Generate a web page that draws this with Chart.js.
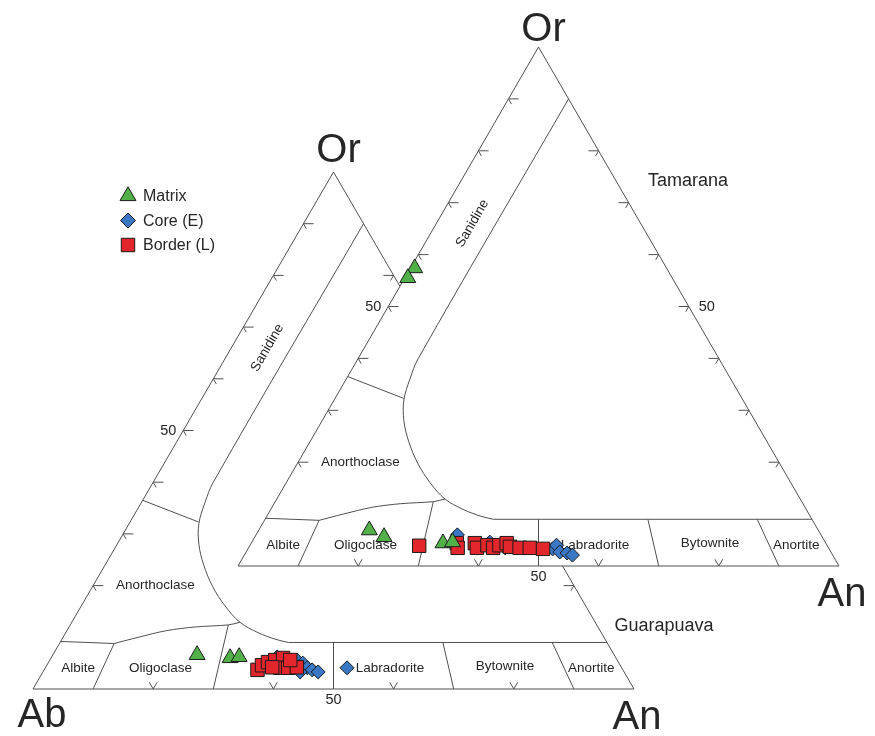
<!DOCTYPE html>
<html lang="en">
<head>
    <meta charset="UTF-8">
    <title>Feldspar ternary - Tamarana / Guarapuava</title>
    <script src="https://cdn.jsdelivr.net/npm/chart.js@4"></script>
    <style>
        html, body { margin: 0; padding: 0; background: #fff; }
        .chart-box { width: 875px; height: 736px; }
    </style>
</head>
<body>
    <div class="chart-box"><canvas id="ternChart" width="875" height="736"></canvas></div>

    <script>
        // compositions in mol% (Ab = 100 - An - Or)
        const tamaranaMatrixAn = [18.4, 21.5, 31.9, 33.4, 0.7, 0.5];
        const tamaranaMatrixOr = [6.9, 5.6, 4.4, 4.6, 57.4, 55.5];
        const tamaranaCoreAn = [33.5, 39.6, 42.7, 50.7, 51.0, 52.2, 53.5, 54.6];
        const tamaranaCoreOr = [6.0, 4.6, 3.5, 3.3, 4.0, 2.7, 2.5, 2.1];
        const tamaranaBorderAn = [28.2, 34.2, 34.8, 37.2, 38.0, 39.5, 40.7, 41.5, 42.5, 43.4, 45.1, 46.8, 49.1];
        const tamaranaBorderOr = [3.9, 4.4, 3.5, 4.4, 3.5, 4.0, 3.5, 4.0, 4.4, 3.7, 3.5, 3.5, 3.3];

        const guarapuavaMatrixAn = [24.0, 29.8, 31.2];
        const guarapuavaMatrixOr = [6.6, 6.0, 6.2];
        const guarapuavaCoreAn = [36.9, 37.5, 41.1, 42.4, 43.6, 44.6, 45.8, 42.8, 50.2];
        const guarapuavaCoreOr = [5.0, 6.2, 5.6, 5.0, 4.1, 3.7, 3.3, 3.3, 4.1];
        const guarapuavaBorderAn = [35.5, 35.8, 36.5, 37.5, 38.6, 39.1, 40.4, 41.8, 37.7, 40.0];
        const guarapuavaBorderOr = [3.7, 4.6, 5.2, 5.6, 6.0, 4.1, 4.1, 4.2, 4.2, 5.6];

        const seriesNames = ['Matrix', 'Core (E)', 'Border (L)'];
        const leftTicks = [20, 30, 40, 50, 60, 70, 80, 90];
        const rightTicks = [20, 30, 40, 50, 60, 70, 80];
        const baseTicks = [20, 40, 60, 80];
        const tickLabel = '50';

        // field names and where they sit, as [An, Or]
        const fieldNames = ['Albite', 'Oligoclase', 'Labradorite', 'Bytownite', 'Anortite', 'Anorthoclase', 'Sanidine'];
        const fieldAn = [5.5, 19.2, 57.4, 76.4, 90.9, 10.35, 6.0];
        const fieldOr = [4.0, 4.0, 4.0, 4.3, 4.0, 20.0, 66.0];

        // field boundaries of the feldspar diagram, [An, Or]
        const sanidineLine = [[10, 90], [10, 40], [10.6, 36], [11.6, 32], [13.6, 28], [16.4, 24], [20, 19.8], [24, 16], [28, 12.9], [32, 10.9], [35.6, 9.6], [38, 9]];
        const sanidineBase = [[0, 36.5], [11.4, 32.3]];
        const albiteTop = [[0, 9.2], [9.1, 8.8]];
        const anorthoclaseBase = [[9.1, 8.8], [12.5, 10.0], [16.6, 11.3], [21, 12.0], [26.3, 12.4], [28.0, 12.9]];
        const plagTop = [[38, 9], [91, 9]];
        const plagDividers = [
            [[10, 0], [9.1, 8.8]],
            [[30, 0], [26.3, 12.4]],
            [[50, 0], [45.5, 9]],
            [[70, 0], [63.7, 9]],
            [[90, 0], [81.9, 9]]
        ];

        const UPPER = { x0: 238, y0: 566, w: 601, h: 519, orDy: -17 };
        const LOWER = { x0: 33, y0: 689, w: 601, h: 517, orDy: -21 };

        const LINE = '#505050';
        const GREEN = '#52b048';
        const BLUE = '#3a78c6';
        const RED = '#e3262b';
        const SIZE_TRI = 9.2, SIZE_DIA = 7, SIZE_SQ = 9.5;

        function tern(tri, an, or) {
            return { x: tri.x0 + tri.w * (an + or / 2) / 100, y: tri.y0 - tri.h * or / 100 };
        }

        function path(tri, pts, tension) {
            return {
                data: pts.map(p => tern(tri, p[0], p[1])),
                showLine: true,
                borderColor: LINE,
                borderWidth: 1,
                pointRadius: 0,
                tension: tension || 0,
                fill: false
            };
        }

        function tickPath(tri) {
            const gap = { x: NaN, y: NaN };
            const pts = [];
            leftTicks.forEach(v => {
                pts.push(tern(tri, 1.7, v), tern(tri, 0, v), tern(tri, 1.0, v - 1.0), gap);
            });
            rightTicks.forEach(v => {
                pts.push(tern(tri, 100 - v - 1.7, v), tern(tri, 100 - v, v), tern(tri, 100 - v, v - 1.0), gap);
            });
            baseTicks.forEach(v => {
                pts.push(tern(tri, v - 1.3, 1.3), tern(tri, v, 0), tern(tri, v, 1.3), gap);
            });
            return {
                data: pts,
                showLine: true,
                spanGaps: false,
                borderColor: LINE,
                borderWidth: 1,
                pointRadius: 0,
                fill: false
            };
        }

        function diagram(tri, whiteFill) {
            const sets = [];
            const outline = path(tri, [[0, 0], [100, 0], [0, 100], [0, 0]]);
            if (whiteFill) {
                outline.fill = 'shape';
                outline.backgroundColor = '#fff';
            }
            sets.push(outline);
            sets.push(tickPath(tri));
            sets.push(path(tri, sanidineLine, 0.35));
            sets.push(path(tri, sanidineBase));
            sets.push(path(tri, albiteTop));
            sets.push(path(tri, anorthoclaseBase, 0.3));
            sets.push(path(tri, plagTop));
            plagDividers.forEach(d => sets.push(path(tri, d)));
            return sets;
        }

        function points(tri, an, or, style, color, radius) {
            return {
                data: an.map((a, i) => tern(tri, a, or[i])),
                pointStyle: style,
                pointRadius: radius,
                backgroundColor: color,
                borderColor: '#1b1b1b',
                borderWidth: 1,
                showLine: false
            };
        }

        // drawing order = push order
        const datasets = [];
        diagram(LOWER, false).forEach(d => datasets.push(d));
        diagram(UPPER, true).forEach(d => datasets.push(d));
        datasets[datasets.length - 1].labelsAfter = true;
        datasets.push(points(LOWER, guarapuavaCoreAn, guarapuavaCoreOr, 'rectRot', BLUE, SIZE_DIA));
        datasets.push(points(LOWER, guarapuavaBorderAn, guarapuavaBorderOr, 'rect', RED, SIZE_SQ));
        datasets.push(points(LOWER, guarapuavaMatrixAn, guarapuavaMatrixOr, 'triangle', GREEN, SIZE_TRI));
        datasets.push(points(UPPER, tamaranaCoreAn, tamaranaCoreOr, 'rectRot', BLUE, SIZE_DIA));
        datasets.push(points(UPPER, tamaranaBorderAn, tamaranaBorderOr, 'rect', RED, SIZE_SQ));
        datasets.push(points(UPPER, tamaranaMatrixAn, tamaranaMatrixOr, 'triangle', GREEN, SIZE_TRI));
        datasets.forEach((d, i) => { d.order = datasets.length - i; });

        const FONT = '"Liberation Sans", Arial, sans-serif';

        function text(ctx, str, x, y, size, rot) {
            ctx.save();
            ctx.font = size + 'px ' + FONT;
            ctx.fillStyle = '#262626';
            ctx.textAlign = 'center';
            ctx.textBaseline = 'middle';
            ctx.translate(x, y);
            if (rot) ctx.rotate(rot);
            ctx.fillText(str, 0, 0);
            ctx.restore();
        }

        const labelsPlugin = {
            id: 'ternLabels',
            afterDatasetDraw(chart, args) {
                if (!chart.data.datasets[args.index].labelsAfter) return;
                const ctx = chart.ctx;
                const xs = chart.scales.x, ys = chart.scales.y;
                const at = (tri, an, or) => {
                    const p = tern(tri, an, or);
                    return [xs.getPixelForValue(p.x), ys.getPixelForValue(p.y)];
                };
                [LOWER, UPPER].forEach(tri => {
                    fieldNames.forEach((name, i) => {
                        const p = at(tri, fieldAn[i], fieldOr[i]);
                        const sanidine = name === 'Sanidine';
                        text(ctx, name, p[0], p[1], 13.5, sanidine ? -Math.PI / 3 : 0);
                    });
                    let p = at(tri, 0, 50);
                    text(ctx, tickLabel, p[0] - 15, p[1], 14.5);
                    p = at(tri, 50, 0);
                    text(ctx, tickLabel, p[0], p[1] + 11, 14.5);
                    p = at(tri, 0, 100);
                    text(ctx, 'Or', p[0] + 5, p[1] + tri.orDy, 40);
                    p = at(tri, 100, 0);
                    text(ctx, 'An', p[0] + 3, p[1] + 29, 40);
                });
                let p = at(UPPER, 50, 50);
                text(ctx, tickLabel, p[0] + 18, p[1], 14.5);
                p = at(LOWER, 0, 0);
                text(ctx, 'Ab', p[0] + 9, p[1] + 27, 40);
                text(ctx, 'Tamarana', xs.getPixelForValue(688), ys.getPixelForValue(181), 18);
                text(ctx, 'Guarapuava', xs.getPixelForValue(664), ys.getPixelForValue(626), 18);
            },
            afterDraw(chart) {
                // legend
                const ctx = chart.ctx;
                const styles = [['triangle', GREEN, SIZE_TRI], ['rectRot', BLUE, 7.5], ['rect', RED, SIZE_SQ]];
                seriesNames.forEach((name, i) => {
                    const x = 128, y = 196 + i * 24.5;
                    ctx.save();
                    ctx.fillStyle = styles[i][1];
                    ctx.strokeStyle = '#1b1b1b';
                    ctx.lineWidth = 1;
                    Chart.helpers.drawPoint(ctx, { pointStyle: styles[i][0], radius: styles[i][2], borderWidth: 1 }, x, y);
                    ctx.restore();
                    ctx.save();
                    ctx.font = '16px ' + FONT;
                    ctx.fillStyle = '#262626';
                    ctx.textBaseline = 'middle';
                    ctx.fillText(name, 143, y + 1);
                    ctx.restore();
                });
            }
        };

        new Chart(document.getElementById('ternChart'), {
            type: 'scatter',
            data: { datasets: datasets },
            options: {
                responsive: false,
                animation: false,
                events: [],
                layout: { padding: 0, autoPadding: false },
                scales: {
                    x: { type: 'linear', min: 0, max: 875, display: false },
                    y: { type: 'linear', min: 0, max: 736, reverse: true, display: false }
                },
                plugins: {
                    legend: { display: false },
                    tooltip: { enabled: false }
                }
            },
            plugins: [labelsPlugin]
        });
    </script>
</body>
</html>
